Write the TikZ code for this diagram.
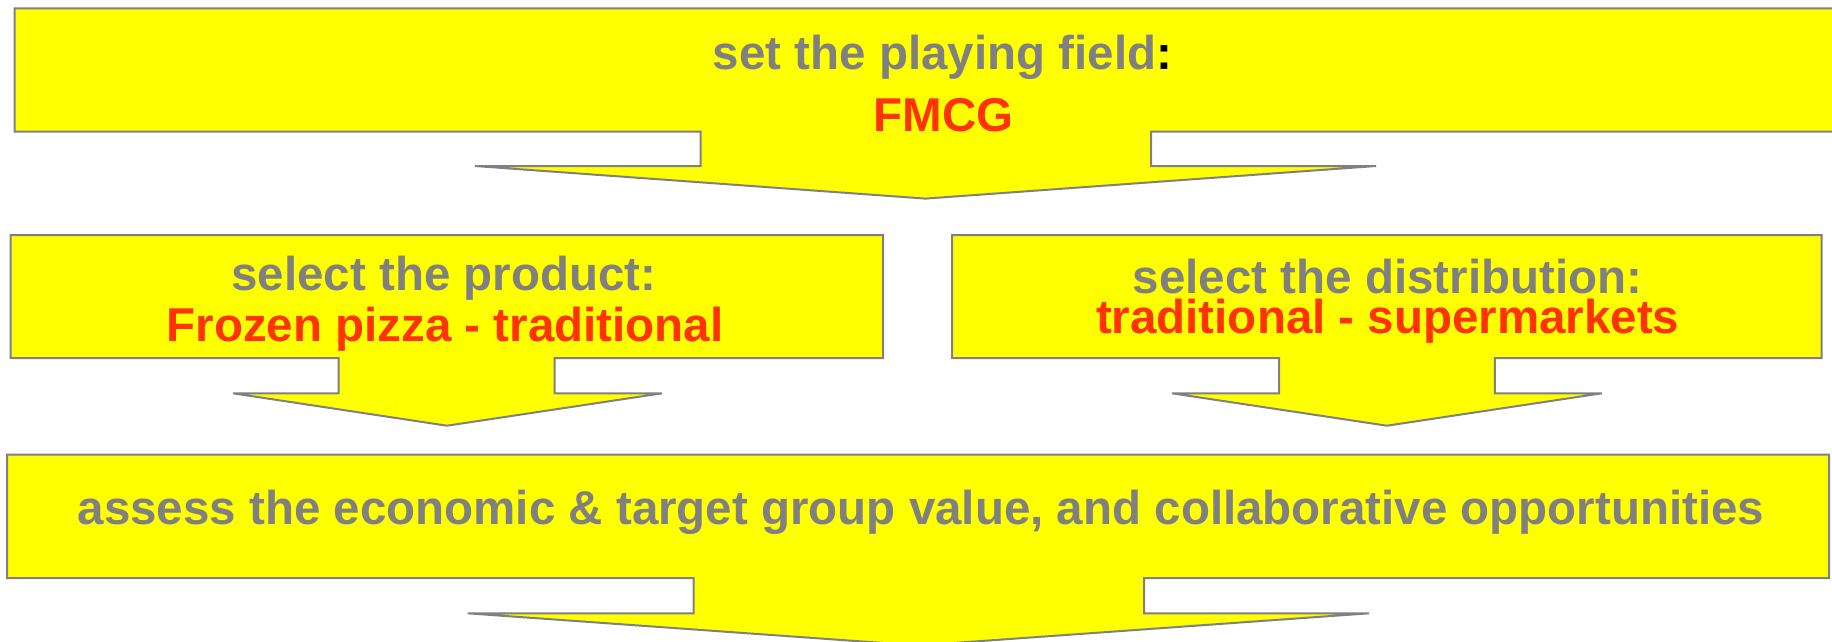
\documentclass[tikz,border=0pt]{standalone}
\usepackage{fontspec}
\setmainfont{Liberation Sans}
\definecolor{boxfill}{HTML}{FFFF00}
\definecolor{edgegray}{HTML}{808080}
\definecolor{labelgray}{HTML}{808080}
\definecolor{accent}{HTML}{FF3300}
\tikzset{
  callout/.style={fill=boxfill, draw=edgegray, line width=2pt, line join=miter},
  steplabel/.style={inner sep=0pt, anchor=base, font=\bfseries\fontsize{47.5}{57}\selectfont},
}
\begin{document}
\begin{tikzpicture}[x=1pt,y=-1pt]
\useasboundingbox (0,0) rectangle (1832,641);

% step 1: playing field (box runs off the right edge)
\draw[callout] (14.7,8.3) -- (1850,8.3) -- (1850,131.7) -- (1151,131.7) -- (1151,166)
  -- (1376,166) -- (925.5,198.6) -- (475,166) -- (700.5,166) -- (700.5,131.7)
  -- (14.7,131.7) -- cycle;

% step 2a: product
\draw[callout] (10.6,235) -- (883,235) -- (883,358) -- (554.6,358) -- (554.6,393.3)
  -- (662,393.3) -- (447,425.7) -- (233,393.3) -- (338.6,393.3) -- (338.6,358)
  -- (10.6,358) -- cycle;

% step 2b: distribution
\draw[callout] (952,235) -- (1821.7,235) -- (1821.7,358) -- (1494.8,358) -- (1494.8,393.3)
  -- (1601.8,393.3) -- (1386.9,425.7) -- (1172,393.3) -- (1279,393.3) -- (1279,358)
  -- (952,358) -- cycle;

% step 3: assessment (tip runs off the bottom edge)
\draw[callout] (7,454.5) -- (1829,454.5) -- (1829,578) -- (1144,578) -- (1144,613.3)
  -- (1369,613.3) -- (918.5,645.5) -- (467.7,613.3) -- (693.6,613.3) -- (693.6,578)
  -- (7,578) -- cycle;

% labels
\node[steplabel, text=labelgray] (fieldtitle) at (942.5,69.3) {set the playing field\textcolor{black}{:}};
\node[steplabel, text=accent] (fieldvalue) at (943.5,131.7) {FMCG};

\node[steplabel, text=labelgray] (producttitle) at (444,290) {select the product:};
\node[steplabel, text=accent] (productvalue) at (445,341.7) {Frozen pizza - traditional};

\node[steplabel, text=labelgray] (distribtitle) at (1387.5,293) {select the distribution:};
\node[steplabel, text=accent] (distribvalue) at (1387.7,333) {traditional - supermarkets};

\node[steplabel, text=labelgray] (assesstitle) at (921,524) {assess the economic \& target group value, and collaborative opportunities};
\end{tikzpicture}
\end{document}
